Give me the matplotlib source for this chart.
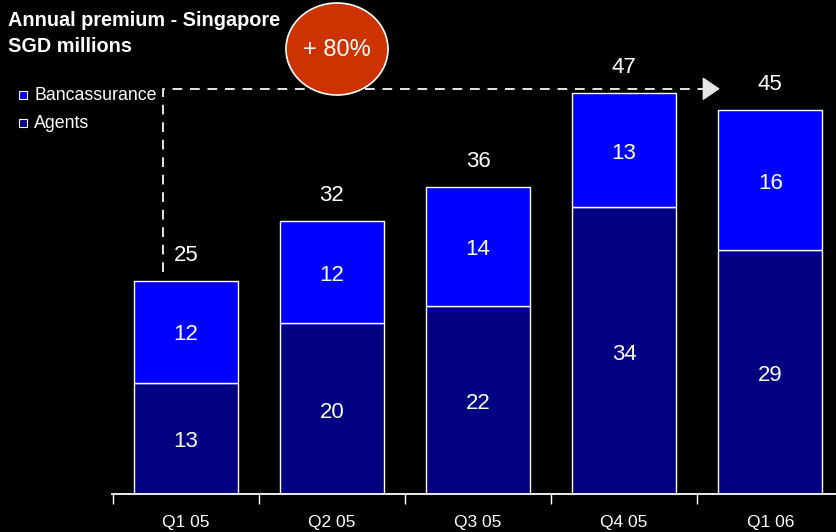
import numpy as np
import matplotlib.pyplot as plt
from matplotlib.patches import Ellipse

quarters = ["Q1 05", "Q2 05", "Q3 05", "Q4 05", "Q1 06"]
agents = [13, 20, 22, 33.6, 28.6]
banca = [12, 12, 14, 13.4, 16.4]
totals = [25, 32, 36, 47, 45]
growth_label = "+ 80%"

NAVY = "#000080"
BLUE = "#0000FF"
LINE = "#e6e6e6"
FONT = ["Liberation Sans", "DejaVu Sans"]
plt.rcParams["font.family"] = FONT

fig = plt.figure(figsize=(8.36, 5.32), dpi=100, facecolor="black")
ax = fig.add_axes([0.134, 0.0714, 0.866, 0.882])
ax.set_facecolor("black")

x = np.arange(len(quarters))
w = 0.71
ax.bar(x, agents, width=w, color=NAVY, edgecolor="white", linewidth=1)
ax.bar(x, banca, width=w, bottom=agents, color=BLUE, edgecolor="white", linewidth=1)

for i in range(len(quarters)):
    ax.text(x[i], agents[i] / 2 - 0.4, f"{agents[i]:.0f}", color="white",
            fontsize=16, ha="center", va="center")
    ax.text(x[i], agents[i] + banca[i] / 2 - 0.35, f"{banca[i]:.0f}",
            color="white", fontsize=16, ha="center", va="center")
    ax.text(x[i], totals[i] + 3.0, str(totals[i]), color="white", fontsize=16,
            ha="center", va="center")

ax.set_xlim(-0.505, 4.45)
ax.set_ylim(0, 55)
for s in ["top", "right", "left"]:
    ax.spines[s].set_visible(False)
ax.spines["bottom"].set_color("white")
ax.spines["bottom"].set_linewidth(1.3)
ax.set_yticks([])
ax.set_xticks(np.arange(-0.5, 4, 1.0))
ax.set_xticklabels([])
ax.tick_params(axis="x", which="major", direction="out", length=7, width=1,
               color="white")
ax.set_xticks(x, minor=True)
ax.set_xticklabels(quarters, minor=True, color="white", fontsize=12.5)
ax.tick_params(axis="x", which="minor", length=0, pad=15)

# dashed growth arrow from first bar to the peak
x0 = x[0] - 0.157
x1 = 3.655
y_top = max(totals) + 0.5
ax.plot([x0, x0, x1 - 0.1], [totals[0] + 1, y_top, y_top], color=LINE,
        lw=1.4, ls=(0, (5, 4)), clip_on=False)
ax.annotate("", xy=(x1, y_top), xytext=(x1 - 0.11, y_top),
            arrowprops=dict(arrowstyle="-|>,head_length=1.1,head_width=0.75",
                            color=LINE, lw=1, shrinkA=0, shrinkB=0),
            annotation_clip=False)

# title and legend
fig.text(8 / 836, 1 - 21 / 532, "Annual premium - Singapore", color="white",
         fontsize=14.3, fontweight="bold", va="center", ha="left")
fig.text(8 / 836, 1 - 47 / 532, "SGD millions", color="white",
         fontsize=14.3, fontweight="bold", va="center", ha="left")
for yy, col, lab in [(95, BLUE, "Bancassurance"), (123, NAVY, "Agents")]:
    fig.patches.append(plt.Rectangle((19 / 836, 1 - (yy + 4) / 532), 8 / 836,
                                     8 / 532, transform=fig.transFigure,
                                     facecolor=col, edgecolor="white", lw=0.8))
    fig.text(34 / 836, 1 - yy / 532, lab, color="white", fontsize=12.8,
             va="center", ha="left")

# growth bubble
fig.patches.append(Ellipse((337 / 836, 1 - 49 / 532), 102 / 836, 92 / 532,
                           transform=fig.transFigure, facecolor="#CC3300",
                           edgecolor="white", lw=1.2, zorder=5))
fig.text(337 / 836, 1 - 50 / 532, growth_label, color="white", fontsize=17,
         ha="center", va="center", zorder=6)

fig.savefig("out.png", dpi=100, facecolor="black")
